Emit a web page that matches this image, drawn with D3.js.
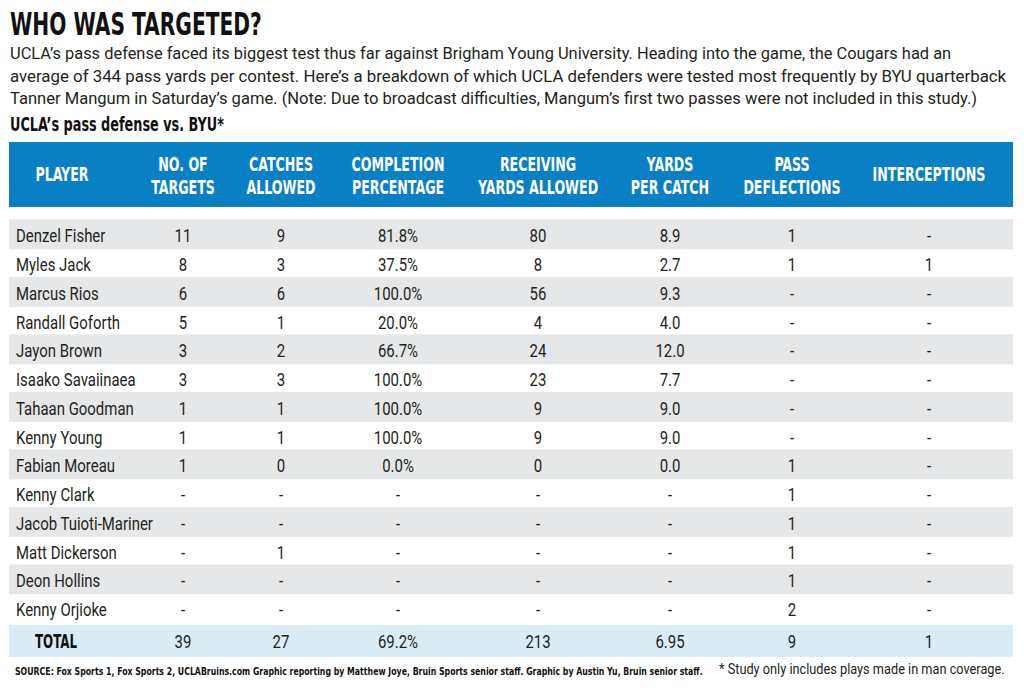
<!DOCTYPE html>
<html><head><meta charset="utf-8">
<script src="https://cdn.jsdelivr.net/npm/d3@7"></script>
<style>
html,body{margin:0;padding:0;background:#fff;}
svg{display:block;}
</style></head>
<body>
<svg id="chart" width="1024" height="692"></svg>
<script>
// ---------- DATA ----------
const title = "WHO WAS TARGETED?";
const introLines = [
  "UCLA\u2019s pass defense faced its biggest test thus far against Brigham Young University. Heading into the game, the Cougars had an",
  "average of 344 pass yards per contest. Here\u2019s a breakdown of which UCLA defenders were tested most frequently by BYU quarterback",
  "Tanner Mangum in Saturday\u2019s game. (Note: Due to broadcast difficulties, Mangum\u2019s first two passes were not included in this study.)"
];
const subtitle = "UCLA\u2019s pass defense vs. BYU*";
const headers = [
  ["PLAYER"], ["NO. OF","TARGETS"], ["CATCHES","ALLOWED"], ["COMPLETION","PERCENTAGE"],
  ["RECEIVING","YARDS ALLOWED"], ["YARDS","PER CATCH"], ["PASS","DEFLECTIONS"], ["INTERCEPTIONS"]
];
const players = ["Denzel Fisher","Myles Jack","Marcus Rios","Randall Goforth","Jayon Brown","Isaako Savaiinaea",
  "Tahaan Goodman","Kenny Young","Fabian Moreau","Kenny Clark","Jacob Tuioti-Mariner","Matt Dickerson","Deon Hollins","Kenny Orjioke"];
const targets       = [11, 8, 6, 5, 3, 3, 1, 1, 1, null, null, null, null, null];
const catches       = [9, 3, 6, 1, 2, 3, 1, 1, 0, null, null, 1, null, null];
const completionPct = [81.8, 37.5, 100.0, 20.0, 66.7, 100.0, 100.0, 100.0, 0.0, null, null, null, null, null];
const recYards      = [80, 8, 56, 4, 24, 23, 9, 9, 0, null, null, null, null, null];
const yardsPerCatch = [8.9, 2.7, 9.3, 4.0, 12.0, 7.7, 9.0, 9.0, 0.0, null, null, null, null, null];
const deflections   = [1, 1, null, null, null, null, null, null, 1, 1, 1, 1, 1, 2];
const interceptions = [null, 1, null, null, null, null, null, null, null, null, null, null, null, null];
const totalLabel = "TOTAL";
const totals = ["39", "27", "69.2%", "213", "6.95", "9", "1"];
const sourceText = "SOURCE: Fox Sports 1, Fox Sports 2, UCLABruins.com Graphic reporting by Matthew Joye, Bruin Sports senior staff. Graphic by Austin Yu, Bruin senior staff.";
const footnote = "* Study only includes plays made in man coverage.";

// ---------- SETUP ----------
const svg = d3.select("#chart");
const COND = "'Liberation Sans Narrow','DejaVu Sans Condensed','Roboto','Liberation Sans',sans-serif";
const REG = "'Liberation Sans Narrow','Roboto','Liberation Sans',sans-serif";
const BLUE = "#0a80c4", GRAY = "#e6e7e8", TOTALBG = "#d8edf5", INK = "#231f20";

function styled(sel, family, size, weight){
  return sel.attr("font-family", family).attr("font-size", size).attr("font-weight", weight);
}
function measure(txt, family, size, weight){
  const t = styled(svg.append("text"), family, size, weight).text(txt);
  const w = t.node().getComputedTextLength(); t.remove(); return w;
}
// text placed at (x,y), squeezed horizontally by sx
function scaledText(parent, txt, x, y, sx, family, size, weight, fill, anchor){
  return styled(parent.append("g").attr("transform", `translate(${x},${y}) scale(${sx},1)`)
    .append("text").attr("text-anchor", anchor || "start"), family, size, weight)
    .attr("fill", fill).text(txt);
}
// text fitted to a target width
function fitted(parent, txt, x, y, width, family, size, weight, fill){
  const sx = width / measure(txt, family, size, weight);
  return scaledText(parent, txt, x, y, sx, family, size, weight, fill);
}

// Title and intro
fitted(svg, title, 10, 35, 252, COND, 32, 900, "#111");
const introEnds = [952, 1007, 978];
introLines.forEach((l,i)=> fitted(svg, l, 10, 59 + i*22.6, introEnds[i]-10, REG, 17, 400, INK));
fitted(svg, subtitle, 10, 131, 214, COND, 20, 700, "#111");

// Column scale
const colKeys = d3.range(8);
const colX = d3.scaleOrdinal().domain(colKeys).range([62, 183, 281, 398, 538, 670, 792, 929]);

// Header bar
const left = 9, right = 1013;
svg.append("rect").attr("x", left).attr("y", 142).attr("width", right-left).attr("height", 65).attr("fill", BLUE);
const hScale = 93 / measure("COMPLETION", COND, 19, 700);
const hg = svg.append("g");
headers.forEach((h,i)=>{
  const ys = h.length === 1 ? [181] : [171, 194];
  h.forEach((line,j)=> scaledText(hg, line, colX(i), ys[j], hScale, COND, 19, 700, "#fff", "middle"));
});

// Rows
const rowY = d3.scaleBand().domain(players).range([220, 220 + 28.75*players.length]).padding(0);
const fmt1 = d3.format(".1f");
const columns = [
  targets.map(v => v == null ? "-" : String(v)),
  catches.map(v => v == null ? "-" : String(v)),
  completionPct.map(v => v == null ? "-" : fmt1(v) + "%"),
  recYards.map(v => v == null ? "-" : String(v)),
  yardsPerCatch.map(v => v == null ? "-" : fmt1(v)),
  deflections.map(v => v == null ? "-" : String(v)),
  interceptions.map(v => v == null ? "-" : String(v))
];
const bScale = 137 / measure("Jacob Tuioti-Mariner", REG, 18, 400);
const rows = svg.append("g").selectAll("g.row").data(players).join("g").attr("class","row");
rows.filter((d,i)=> i % 2 === 0).append("rect")
  .attr("x", left).attr("y", d => rowY(d) - 0.6).attr("width", right-left)
  .attr("height", rowY.bandwidth() + 1.2).attr("fill", GRAY);
rows.each(function(p, i){
  const g = d3.select(this);
  const base = rowY(p) + 22.3;
  scaledText(g, p, 16, base, bScale, REG, 18, 400, INK);
  columns.forEach((col, c)=> scaledText(g, col[i], colX(c+1), base, bScale, REG, 18, 400, INK, "middle"));
});

// Total row
const totTop = 625;
svg.append("rect").attr("x", left).attr("y", totTop).attr("width", right-left).attr("height", 32).attr("fill", TOTALBG);
fitted(svg, totalLabel, 35, 648, 42, COND, 20, 700, "#111");
totals.forEach((t,c)=> scaledText(svg, t, colX(c+1), 648, bScale, REG, 18, 400, INK, "middle"));

// Footer
fitted(svg, sourceText, 15, 675, 688, COND, 10.5, 700, "#111");
fitted(svg, footnote, 719, 674, 286, REG, 15, 400, INK);
</script>
</body></html>
